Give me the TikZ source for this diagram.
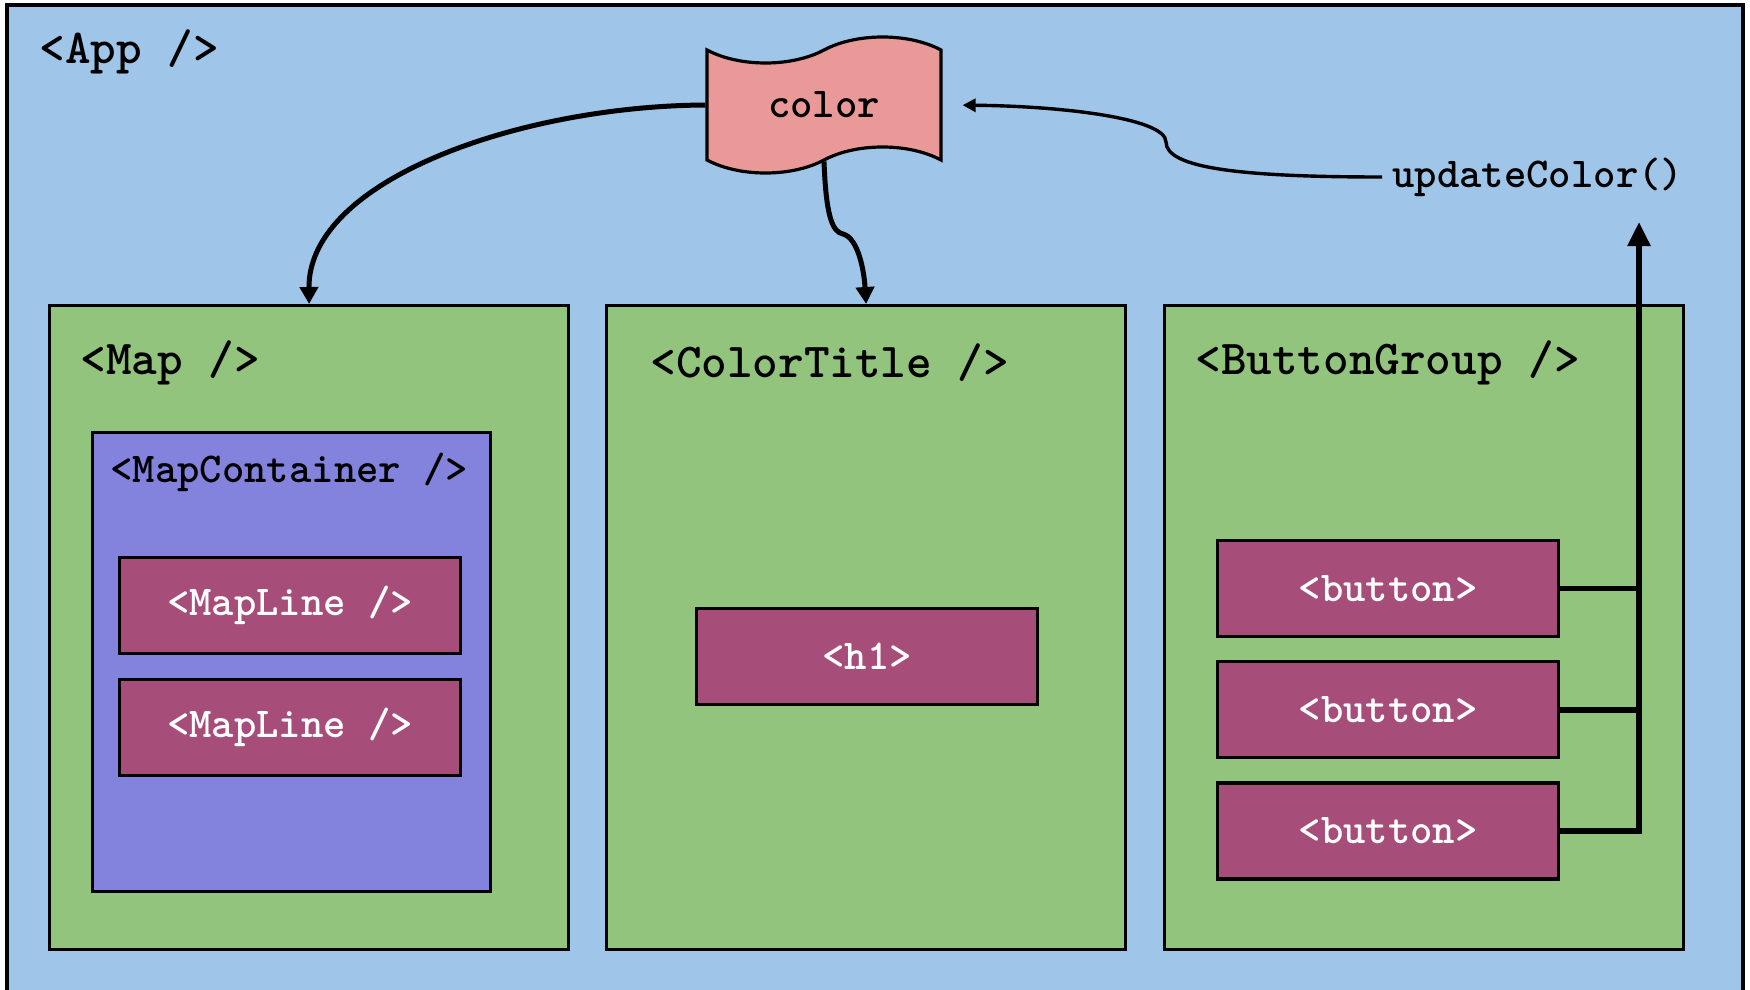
\documentclass[tikz,border=0pt]{standalone}
\usepackage{fontspec}
\usepackage{tikz}
\usetikzlibrary{arrows.meta, positioning, shapes.symbols}

\definecolor{appblue}{HTML}{9FC5E8}
\definecolor{compgreen}{HTML}{93C47D}
\definecolor{contpurple}{HTML}{8383DD}
\definecolor{tagmaroon}{HTML}{A64D79}
\definecolor{flagpink}{HTML}{EA9999}

\newcommand\biglbl{\fontsize{24.4}{27}\selectfont\ttfamily\bfseries}
\newcommand\smalllbl{\fontsize{21.3}{24}\selectfont\ttfamily\bfseries}

\tikzset{
  component/.style={draw=black, line width=1.6pt, fill=compgreen, anchor=north west,
    minimum width=259.5pt, minimum height=322pt, inner sep=0pt},
  container/.style={draw=black, line width=1.6pt, fill=contpurple, anchor=north west,
    minimum width=199pt, minimum height=229.5pt, inner sep=0pt},
  tag/.style={draw=black, line width=1.6pt, fill=tagmaroon, text=white, font=\smalllbl,
    minimum width=170.5pt, minimum height=48pt, inner sep=0pt},
  title/.style={font=\biglbl, anchor=west, inner sep=0pt},
  flag/.style={tape, draw=black, line width=1.6pt, fill=flagpink, font=\smalllbl,
    minimum width=117pt, minimum height=68pt, tape bend height=13pt, inner sep=0pt},
  flow/.style={line width=2.5pt, -{Triangle[length=8.5pt,width=9pt]}},
  callback/.style={line width=1.7pt, -{Triangle[length=6.5pt,width=6.5pt]}, shorten >=10pt},
  wire/.style={line width=2.8pt}
}

\begin{document}
\begin{tikzpicture}[x=0.5pt, y=-0.5pt]
  \useasboundingbox (0,0) rectangle (1750,990);
  \clip (0,0) rectangle (1750,990);
  % App
  \draw[fill=appblue, line width=2pt] (7,5) rectangle (1743,1020);
  \node[title] (applbl) at (39,52) {<App />};
  % state
  \node[flag] (color) at (824,105) {color};
  \node[font=\smalllbl, anchor=west, inner sep=5pt] (upd) at (1382,177) {updateColor()};
  % Components
  \node[component] (map) at (48,304) {};
  \node[component] (ctitle) at (605,304) {};
  \node[component] (bgroup) at (1163,304) {};
  \node[title] (maplbl) at ([shift={(32,59)}]map.north west) {<Map />};
  \node[title] (ctlbl) at ([shift={(45,59)}]ctitle.north west) {<ColorTitle />};
  \node[title] (bglbl) at ([shift={(32,59)}]bgroup.north west) {<ButtonGroup />};
  % Map children
  \node[container] (mapc) at (91,431) {};
  \node[title, font=\smalllbl] (mapclbl) at ([shift={(19,41)}]mapc.north west) {<MapContainer />};
  \node[tag, anchor=north west] (ml1) at (118,556) {<MapLine />};
  \node[tag, below=11.5pt of ml1] (ml2) {<MapLine />};
  % ColorTitle child
  \node[tag, anchor=north west] (h1) at (695,607) {<h1>};
  % buttons
  \node[tag, anchor=north west] (b1) at (1216,539) {<button>};
  \node[tag, below=11pt of b1] (b2) {<button>};
  \node[tag, below=11pt of b2] (b3) {<button>};
  % Data flow
  \draw[flow] (color.west) .. controls (520,106) and (308,180) .. (map.north);
  \draw[flow] (color.south) .. controls (826,215) and (832,232) .. (843,234)
    .. controls (858,238) and (864,270) .. (ctitle.north);
  \coordinate (kink) at (1166,142);
  \draw[callback] (upd.west) .. controls (1240,177) and (1166,168) .. (kink)
    .. controls (1166,118) and (1060,106) .. (color.east);
  % Events
  \coordinate (bustop) at (1639,222);
  \draw[wire, -{Triangle[length=12pt,width=11pt]}] (b3.east) -| (bustop);
  \draw[wire] (b1.east) -- (b1.east -| bustop);
  \draw[wire] (b2.east) -- (b2.east -| bustop);
\end{tikzpicture}
\end{document}
